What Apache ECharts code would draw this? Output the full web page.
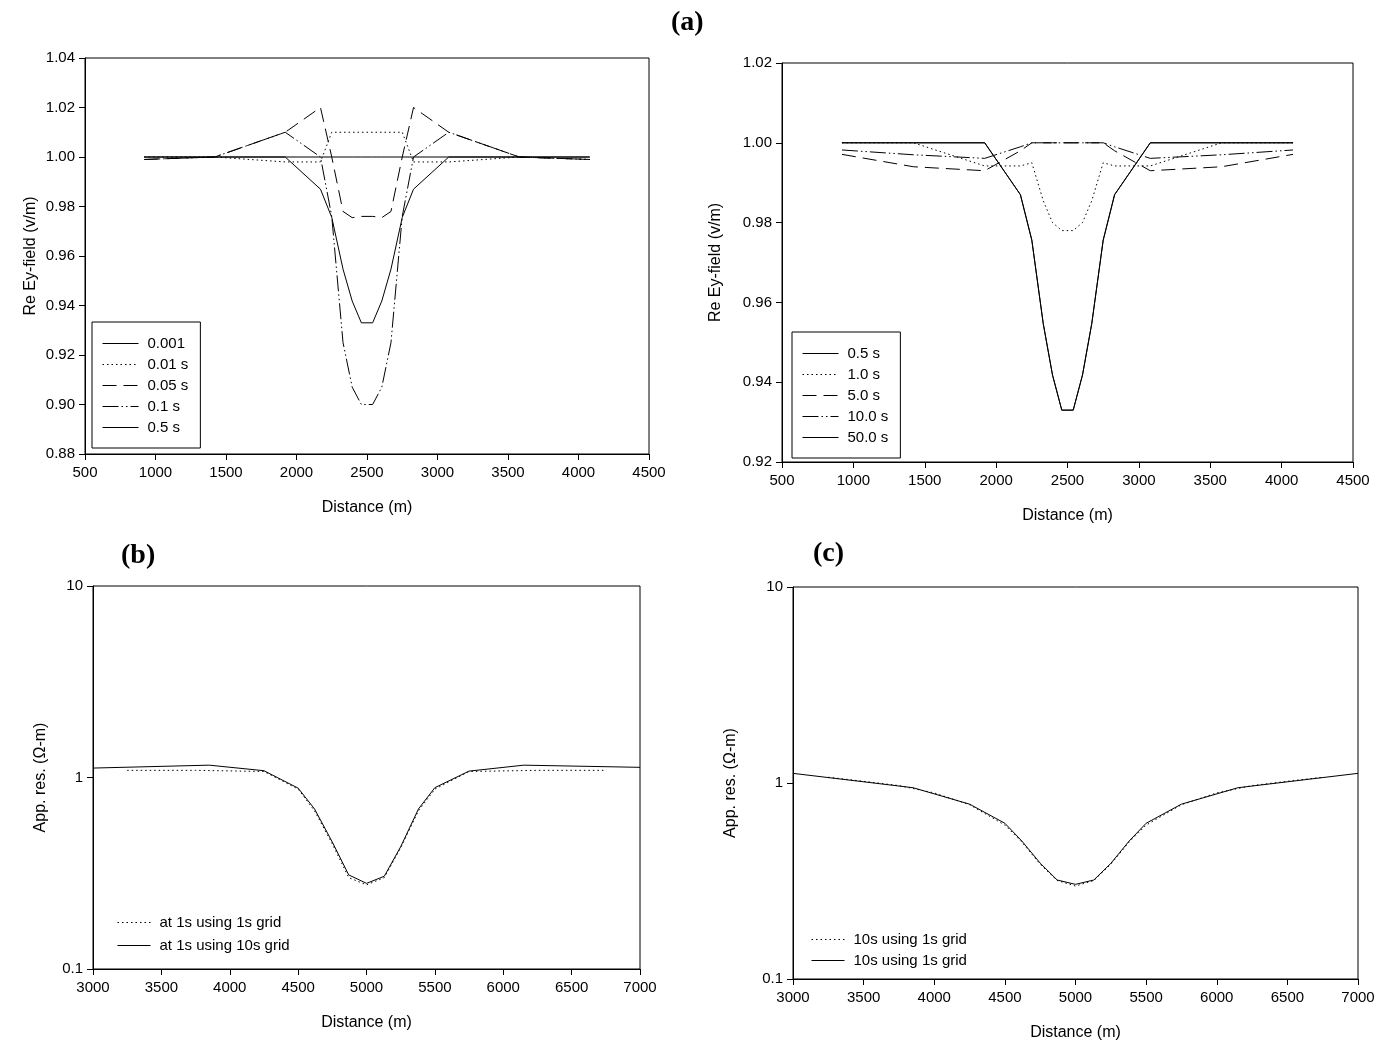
<!DOCTYPE html>
<html>
<head>
<meta charset="utf-8">
<title>Ey-field and apparent resistivity profiles</title>
<script src="https://cdn.jsdelivr.net/npm/echarts@6/dist/echarts.min.js"></script>
<style>
  html, body { margin: 0; padding: 0; background: #fff; }
  #chart { width: 1391px; height: 1047px; }
</style>
</head>
<body>
<div id="chart"></div>
<script>
// ---- (a) left: Re Ey-field at short periods ----
const distA = [920, 1420, 1920, 2170, 2250, 2330, 2395, 2460, 2540, 2605, 2670, 2750, 2830, 3080, 3580, 4080];
const eyT0001 = [1.000, 1.000, 1.000, 1.000, 1.000, 1.000, 1.000, 1.000, 1.000, 1.000, 1.000, 1.000, 1.000, 1.000, 1.000, 1.000];
const eyT001  = [1.000, 1.000, 0.998, 0.998, 1.010, 1.010, 1.010, 1.010, 1.010, 1.010, 1.010, 1.010, 0.998, 0.998, 1.000, 0.999];
const eyT005  = [0.999, 1.000, 1.010, 1.020, 1.000, 0.978, 0.9755, 0.976, 0.976, 0.9755, 0.978, 1.000, 1.020, 1.010, 1.000, 0.999];
const eyT01   = [0.999, 1.000, 1.010, 1.000, 0.976, 0.925, 0.907, 0.900, 0.900, 0.907, 0.925, 0.976, 1.000, 1.010, 1.000, 0.999];
const eyT05   = [1.000, 1.000, 1.000, 0.987, 0.9756, 0.9547, 0.9418, 0.933, 0.933, 0.9418, 0.9547, 0.9756, 0.987, 1.000, 1.000, 1.000];

// ---- (a) right: Re Ey-field at long periods ----
const eyT1    = [1.000, 1.000, 0.9942, 0.9942, 0.995, 0.9855, 0.980, 0.978, 0.978, 0.980, 0.9855, 0.995, 0.9942, 0.9942, 1.000, 1.000];
const eyT5    = [0.9971, 0.994, 0.993, 0.998, 1.000, 1.000, 1.000, 1.000, 1.000, 1.000, 1.000, 1.000, 0.998, 0.993, 0.994, 0.9971];
const eyT10   = [0.9982, 0.997, 0.9961, 0.999, 1.000, 1.000, 1.000, 1.000, 1.000, 1.000, 1.000, 1.000, 0.999, 0.9961, 0.997, 0.9982];
const eyT50   = [1.000, 1.000, 1.000, 0.987, 0.9756, 0.9547, 0.9418, 0.933, 0.933, 0.9418, 0.9547, 0.9756, 0.987, 1.000, 1.000, 1.000];

// ---- (b): apparent resistivity at 1 s ----
const distB10 = [3000, 3850, 4250, 4500, 4620, 4750, 4870, 5000, 5130, 5250, 5380, 5500, 5750, 6150, 7000];
const resB10  = [1.12, 1.16, 1.085, 0.88, 0.685, 0.46, 0.31, 0.28, 0.305, 0.435, 0.685, 0.885, 1.08, 1.16, 1.13];
const distB1  = [3250, 3750, 4250, 4500, 4620, 4750, 4870, 5000, 5130, 5250, 5380, 5500, 5750, 6250, 6750];
const resB1   = [1.09, 1.09, 1.075, 0.87, 0.67, 0.45, 0.30, 0.275, 0.30, 0.43, 0.67, 0.87, 1.075, 1.09, 1.09];

// ---- (c): apparent resistivity at 10 s ----
const distCs  = [3000, 3850, 4250, 4500, 4620, 4750, 4870, 5000, 5130, 5250, 5380, 5500, 5750, 6150, 7000];
const resCs   = [1.12, 0.946, 0.78, 0.623, 0.506, 0.39, 0.32, 0.304, 0.32, 0.389, 0.506, 0.623, 0.78, 0.946, 1.12];
const distCd  = [3250, 3500, 3750, 4000, 4250, 4500, 4620, 4750, 4870, 5000, 5130, 5250, 5380, 5500, 5750, 6000, 6250, 6500, 6750];
const resCd   = [1.07, 1.02, 0.97, 0.89, 0.775, 0.61, 0.50, 0.385, 0.318, 0.298, 0.318, 0.385, 0.50, 0.61, 0.775, 0.89, 0.97, 1.02, 1.07];

// axis tick values
const distTicksA = [500, 4500, 500];   // min, max, step
const distTicksBC = [3000, 7000, 500];
const eyTicksL = [0.88, 1.04, 0.02];
const eyTicksR = [0.92, 1.02, 0.02];
const resTicks = [0.1, 10];

const FONT = 'Liberation Sans, Arial, sans-serif';
const SERIF = 'Liberation Serif, Times New Roman, serif';

const SOLID = 'solid';
const DOT = [1.5, 3];
const DASH = [14, 7];
const DASHDOT = [16, 3, 1.5, 3, 1.5, 3];

function pairs(xs, ys) { return xs.map((x, i) => [x, ys[i]]); }

function line(name, xi, yi, xs, ys, type) {
  return {
    name: name, type: 'line', xAxisIndex: xi, yAxisIndex: yi,
    data: pairs(xs, ys), symbol: 'none', showSymbol: false, animation: false,
    color: '#000',
    itemStyle: { color: '#000' },
    lineStyle: { color: '#000', width: 1, type: type }
  };
}

const grids = [
  { left: 85, top: 58, width: 564, height: 396 },
  { left: 782, top: 63, width: 571, height: 399 },
  { left: 93, top: 586, width: 547, height: 383 },
  { left: 793, top: 587, width: 565, height: 392 }
];

function xAxisDef(gi, t) {
  return {
    type: 'value', gridIndex: gi, min: t[0], max: t[1], interval: t[2],
    name: 'Distance (m)', nameLocation: 'middle', nameGap: 46,
    nameTextStyle: { fontFamily: FONT, fontSize: 16, color: '#000' },
    axisLine: { lineStyle: { color: '#000', width: 1 } },
    axisTick: { length: 6, lineStyle: { color: '#000' } },
    axisLabel: { fontFamily: FONT, fontSize: 15, color: '#000', margin: 11,
                 formatter: v => String(Math.round(v)) },
    splitLine: { show: false }
  };
}

function yLinDef(gi, t, gap) {
  return {
    type: 'value', gridIndex: gi, min: t[0], max: t[1], interval: t[2],
    name: 'Re Ey-field (v/m)', nameLocation: 'middle', nameGap: gap,
    nameTextStyle: { fontFamily: FONT, fontSize: 16, color: '#000' },
    axisLine: { show: true, lineStyle: { color: '#000', width: 1 } },
    axisTick: { show: true, length: 6, lineStyle: { color: '#000' } },
    axisLabel: { fontFamily: FONT, fontSize: 15, color: '#000', margin: 10,
                 formatter: v => v.toFixed(2) },
    splitLine: { show: false }
  };
}

function yLogDef(gi, gap) {
  return {
    type: 'log', logBase: 10, gridIndex: gi, min: resTicks[0], max: resTicks[1],
    name: 'App. res. (\u03A9-m)', nameLocation: 'middle', nameGap: gap,
    nameTextStyle: { fontFamily: FONT, fontSize: 16, color: '#000' },
    axisLine: { show: true, lineStyle: { color: '#000', width: 1 } },
    axisTick: { show: true, length: 6, lineStyle: { color: '#000' } },
    minorTick: { show: false },
    axisLabel: { fontFamily: FONT, fontSize: 15, color: '#000', margin: 10,
                 formatter: v => String(Math.round(v * 10) / 10) },
    splitLine: { show: false }
  };
}

function legendDef(names, left, top, boxed, gap) {
  return {
    data: names, orient: 'vertical', left: left, top: top,
    itemWidth: boxed ? 36 : 33, itemHeight: 14, itemGap: gap,
    padding: boxed ? [14, 12, 13, 10] : 0,
    borderColor: boxed ? '#000' : 'transparent', borderWidth: boxed ? 1 : 0,
    selectedMode: false,
    itemStyle: { opacity: 0 },
    lineStyle: { color: '#000', width: 1 },
    formatter: n => n.split('|')[1],
    textStyle: { fontFamily: FONT, fontSize: 15, color: '#000', padding: [0, 0, 0, 4] }
  };
}

const option = {
  backgroundColor: '#fff',
  animation: false,
  color: ['#000'],
  title: [
    { text: '(a)', left: 671, top: 9, padding: 0,
      textStyle: { fontFamily: SERIF, fontWeight: 'bold', fontSize: 28, color: '#000' } },
    { text: '(b)', left: 121, top: 542, padding: 0,
      textStyle: { fontFamily: SERIF, fontWeight: 'bold', fontSize: 28, color: '#000' } },
    { text: '(c)', left: 813, top: 540, padding: 0,
      textStyle: { fontFamily: SERIF, fontWeight: 'bold', fontSize: 28, color: '#000' } }
  ],
  grid: grids.map(g => Object.assign({ show: true, borderColor: '#000', borderWidth: 1,
                                       backgroundColor: 'transparent' }, g)),
  xAxis: [
    xAxisDef(0, distTicksA), xAxisDef(1, distTicksA),
    xAxisDef(2, distTicksBC), xAxisDef(3, distTicksBC)
  ],
  yAxis: [
    yLinDef(0, eyTicksL, 46), yLinDef(1, eyTicksR, 58),
    yLogDef(2, 44), yLogDef(3, 54)
  ],
  legend: [
    legendDef(['a1|0.001', 'a2|0.01 s', 'a3|0.05 s', 'a4|0.1 s', 'a5|0.5 s'], 92, 322, true, 6),
    legendDef(['r1|0.5 s', 'r2|1.0 s', 'r3|5.0 s', 'r4|10.0 s', 'r5|50.0 s'], 792, 332, true, 6),
    legendDef(['b1|at 1s using 1s grid', 'b2|at 1s using 10s grid'], 117, 915, false, 8),
    legendDef(['c1|10s using 1s grid', 'c2|10s using 1s grid'], 811, 932, false, 6)
  ],
  series: [
    line('a1|0.001', 0, 0, distA, eyT0001, SOLID),
    line('a2|0.01 s', 0, 0, distA, eyT001, DOT),
    line('a3|0.05 s', 0, 0, distA, eyT005, DASH),
    line('a4|0.1 s', 0, 0, distA, eyT01, DASHDOT),
    line('a5|0.5 s', 0, 0, distA, eyT05, SOLID),

    line('r1|0.5 s', 1, 1, distA, eyT05, SOLID),
    line('r2|1.0 s', 1, 1, distA, eyT1, DOT),
    line('r3|5.0 s', 1, 1, distA, eyT5, DASH),
    line('r4|10.0 s', 1, 1, distA, eyT10, DASHDOT),
    line('r5|50.0 s', 1, 1, distA, eyT50, SOLID),

    line('b1|at 1s using 1s grid', 2, 2, distB1, resB1, DOT),
    line('b2|at 1s using 10s grid', 2, 2, distB10, resB10, SOLID),

    line('c1|10s using 1s grid', 3, 3, distCd, resCd, DOT),
    line('c2|10s using 1s grid', 3, 3, distCs, resCs, SOLID)
  ]
};

const chart = echarts.init(document.getElementById('chart'), null, { renderer: 'canvas' });
chart.setOption(option);
</script>
</body>
</html>
